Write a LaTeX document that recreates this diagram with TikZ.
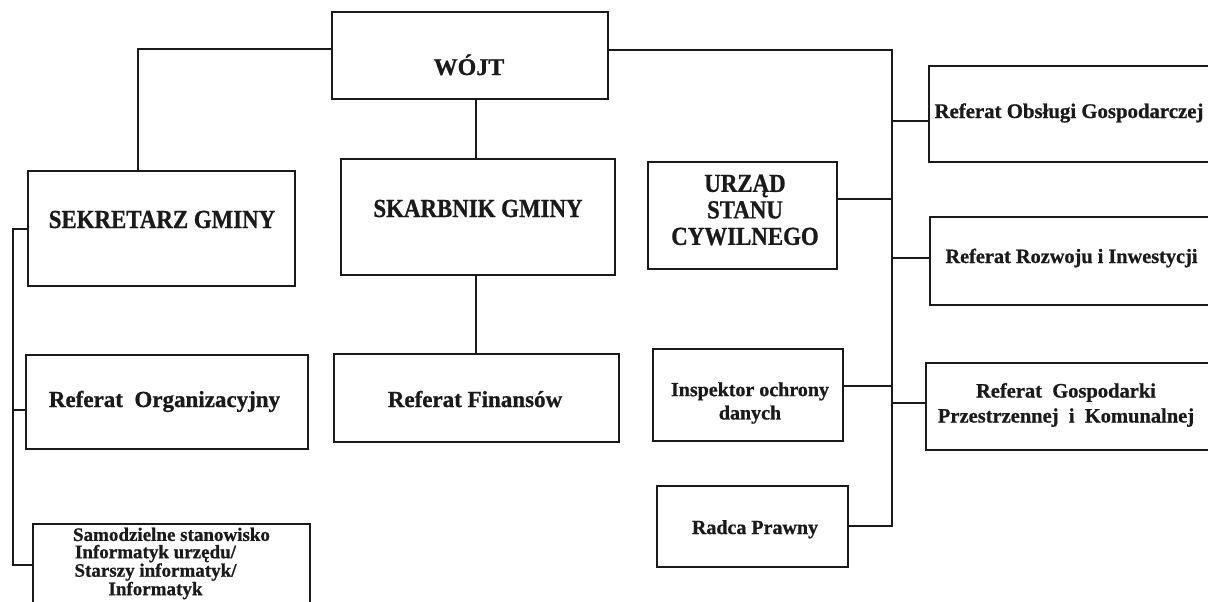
\documentclass[tikz,border=0pt]{standalone}
\usepackage{fontspec}
\setmainfont{Liberation Serif}[BoldFeatures={FakeBold=0.8}]
\newfontfamily\capsf{Liberation Serif}[FakeStretch=0.88, BoldFeatures={FakeBold=0.8}]
\definecolor{ink}{HTML}{1A1A1A}
\newcommand{\trailgap}{\hspace*{32pt}\mbox{}}
\begin{document}
\begin{tikzpicture}[x=1pt,y=-1pt,
  box/.style={draw=ink, line width=1.3pt, inner sep=0pt, outer sep=0pt},
  txt/.style={text=ink, inner sep=0pt, align=center},
  conn/.style={draw=ink, line width=1.3pt}]
\fill[white] (0,0) rectangle (1208,602);
\clip (0,0) rectangle (1208,602);

% boxes
\node[box, minimum width=276, minimum height=87]  (wojt)  at (470,55.5)   {};
\node[box, minimum width=267, minimum height=115] (sekr)  at (161.5,228.5) {};
\node[box, minimum width=274, minimum height=116] (skarb) at (478,217)    {};
\node[box, minimum width=189, minimum height=107] (usc)   at (742.5,215.5) {};
\node[box, minimum width=289, minimum height=96]  (obs)   at (1073.5,114) {};
\node[box, minimum width=288, minimum height=88]  (rozw)  at (1074,261)   {};
\node[box, minimum width=292, minimum height=87]  (gosp)  at (1072,406.5) {};
\node[box, minimum width=190, minimum height=92]  (insp)  at (748,395)    {};
\node[box, minimum width=191, minimum height=81]  (radca) at (752.5,526.5) {};
\node[box, minimum width=285, minimum height=88]  (fin)   at (476.5,398)  {};
\node[box, minimum width=282, minimum height=94]  (org)   at (167,402)    {};
\node[box, minimum width=277, minimum height=86]  (samo)  at (171.5,567)  {};

% texts
\node[txt, anchor=base, font=\bfseries\fontsize{24}{28}\selectfont] (wojt-t) at (469,75) {WÓJT};
\node[txt, anchor=base, font=\capsf\bfseries\fontsize{26}{28}\selectfont] (sekr-t) at (162,228) {SEKRETARZ GMINY};
\node[txt, anchor=base, font=\capsf\bfseries\fontsize{26}{28}\selectfont] (skarb-t) at (478,217) {SKARBNIK GMINY};
\node[txt, font=\capsf\bfseries\fontsize{26}{26.5}\selectfont] (usc-t) at (745,210) {URZĄD\\STANU\\CYWILNEGO};
\node[txt, anchor=base, font=\bfseries\fontsize{20.8}{24}\selectfont] (obs-t) at (1069,118) {Referat Obsługi Gospodarczej};
\node[txt, anchor=base, font=\bfseries\fontsize{20.3}{24}\selectfont] (rozw-t) at (1071.5,263) {Referat Rozwoju i Inwestycji};
\node[txt, font=\bfseries\fontsize{20.5}{25}\selectfont] (gosp-t) at (1066,405) {Referat\ \ Gospodarki\\Przestrzennej\ \ i\ \ Komunalnej};
\node[txt, font=\bfseries\fontsize{20}{23.3}\selectfont] (insp-t) at (750,403) {Inspektor ochrony\\danych};
\node[txt, anchor=base, font=\bfseries\fontsize{20}{24}\selectfont] (radca-t) at (755,534) {Radca Prawny};
\node[txt, anchor=base, font=\bfseries\fontsize{23}{27}\selectfont] (fin-t) at (475,407) {Referat Finansów};
\node[txt, anchor=base, font=\bfseries\fontsize{23}{27}\selectfont] (org-t) at (164.5,407) {Referat\ \ Organizacyjny};
\node[txt, font=\bfseries\fontsize{19}{17.3}\selectfont] (samo-t) at (171.5,563.5)
  {Samodzielne stanowisko\\Informatyk urzędu/\trailgap\\Starszy informatyk/\trailgap\\Informatyk\trailgap};

% connectors
\coordinate (sx) at (138,0);
\draw[conn] ([yshift=6.5pt]wojt.west) -| (sx |- sekr.north);

\coordinate (mx) at (476,0);
\draw[conn] (mx |- wojt.south) -- (mx |- skarb.north);
\draw[conn] (mx |- skarb.south) -- (mx |- fin.north);

\coordinate (jr)   at (892,526);
\coordinate (jobs) at (892,121);
\coordinate (jusc) at (892,199);
\coordinate (jroz) at (892,258);
\coordinate (jins) at (892,386);
\coordinate (jgos) at (892,403);
\draw[conn] ([yshift=5.5pt]wojt.east) -| (jr) -- (radca.east |- jr);
\draw[conn] (jobs) -- (obs.west |- jobs);
\draw[conn] (usc.east |- jusc) -- (jusc);
\draw[conn] (jroz) -- (rozw.west |- jroz);
\draw[conn] (insp.east |- jins) -- (jins);
\draw[conn] (jgos) -- (gosp.west |- jgos);

\coordinate (ls)  at (13,229);
\coordinate (lo)  at (13,410);
\coordinate (lsa) at (13,565);
\draw[conn] (sekr.west |- ls) -- (ls) -- (lsa) -- (samo.west |- lsa);
\draw[conn] (lo) -- (org.west |- lo);
\end{tikzpicture}
\end{document}
